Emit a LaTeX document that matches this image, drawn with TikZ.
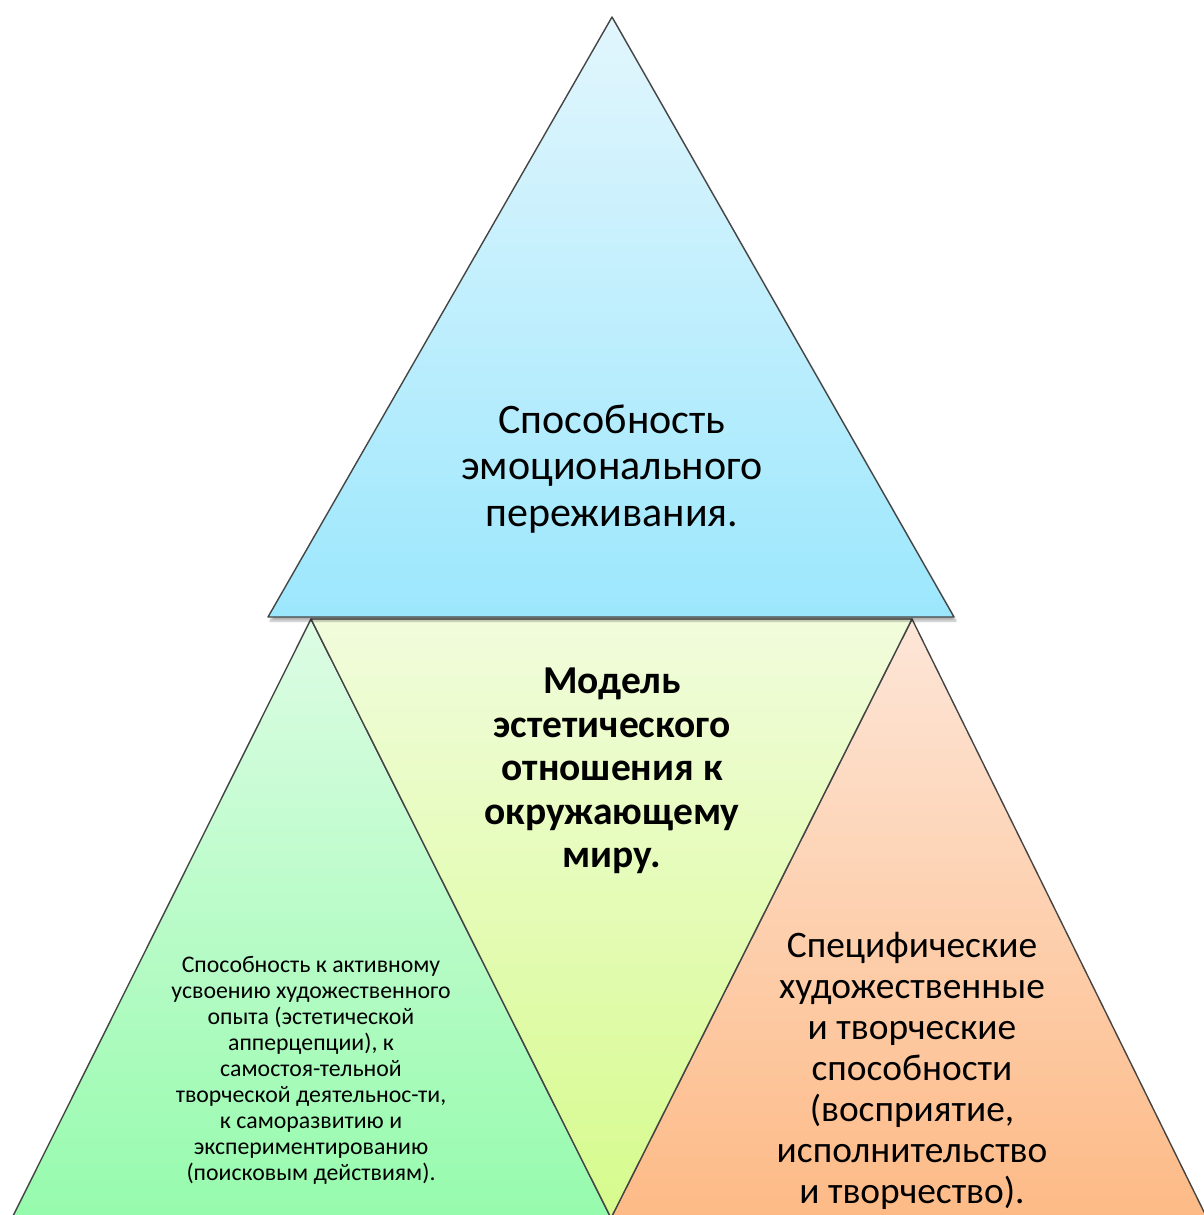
\documentclass[tikz,border=0pt]{standalone}
\usepackage{fontspec}
\setmainfont{Carlito}
\usepackage{tikz}
\usetikzlibrary{positioning}
\usetikzlibrary{shadows.blur}
\definecolor{edgegray}{HTML}{454545}
\definecolor{topA}{HTML}{E2F6FD}
\definecolor{topB}{HTML}{9CE7FD}
\definecolor{midA}{HTML}{F1FCDC}
\definecolor{midB}{HTML}{D6FB8C}
\definecolor{leftA}{HTML}{DDFCE4}
\definecolor{leftB}{HTML}{96FBAD}
\definecolor{rightA}{HTML}{FDE6D8}
\definecolor{rightB}{HTML}{FDBA86}
\tikzset{tri/.style={draw=edgegray,line width=1.4pt,line join=round},
  tri shadow/.style={blur shadow={shadow xshift=2pt,shadow yshift=-4pt,shadow blur steps=6,shadow opacity=30}},
  label text/.style={align=center,inner sep=0pt,text=black},}

\begin{document}
\begin{tikzpicture}[x=1pt,y=-1pt]
    \useasboundingbox (0,0) rectangle (1204,1215);
    % corners of the four triangles
    \coordinate (apex) at (612,17);
    \coordinate (tl) at (268,617);
    \coordinate (tr) at (954,617);
    \coordinate (ml) at (311,619);
    \coordinate (mr) at (912,619);
    \coordinate (mb) at (611,1218);
    \coordinate (ll) at (12,1218);
    \coordinate (rr) at (1207,1218);

    \shade[tri,top color=leftA,bottom color=leftB] (ml) -- (ll) -- (mb) -- cycle;
    \shade[tri,top color=rightA,bottom color=rightB] (mr) -- (mb) -- (rr) -- cycle;
    \shade[tri,top color=midA,bottom color=midB] (ml) -- (mr) -- (mb) -- cycle;
    \shade[tri,tri shadow,top color=topA,bottom color=topB] (apex) -- (tl) -- (tr) -- cycle;

    \node[label text,font=\fontsize{42}{46.5}\selectfont] (emotion) at (612,469)
      {Способность\\ эмоционального\\ переживания.};
    \node[label text,font=\fontsize{39.5}{43.5}\selectfont\bfseries] (model) at (612,771)
      {Модель\\ эстетического\\ отношения к\\ окружающему\\ миру.};
    \node[label text,font=\fontsize{23.8}{26}\selectfont] (active) at (311,1070)
      {Способность к активному\\ усвоению художественного\\ опыта (эстетической\\
       апперцепции), к\\ самостоя-тельной\\ творческой деятельнос-ти,\\
       к саморазвитию и\\ экспериментированию\\ (поисковым действиям).};
    \node[label text,font=\fontsize{37.4}{41}\selectfont] (specific) at (912,1071)
      {Специфические\\ художественные\\ и творческие\\ способности\\
       (восприятие,\\ исполнительство\\ и творчество).};
\end{tikzpicture}
\end{document}
